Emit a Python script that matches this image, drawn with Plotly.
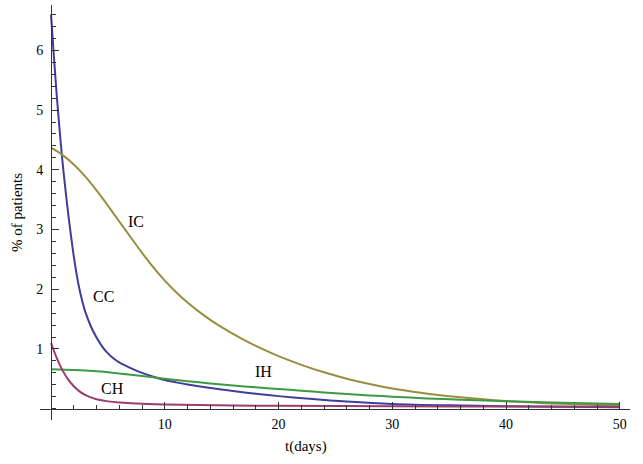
import plotly.graph_objects as go

# ---- data ----
t_cc = [0, 0.25, 0.5, 0.75, 1.0, 1.25, 1.5, 1.75, 2.0, 2.25, 2.5, 2.75, 3.0, 3.5, 4.0, 4.5, 5.0, 5.5, 6, 7, 8, 9, 10, 11, 12, 14, 16, 18, 20, 23, 26, 30, 35, 40, 45, 50]
cc = [6.6, 5.9, 5.25, 4.68, 4.15, 3.7, 3.28, 2.9, 2.55, 2.25, 2.0, 1.8, 1.63, 1.38, 1.19, 1.04, 0.925, 0.84, 0.775, 0.68, 0.60, 0.535, 0.48, 0.44, 0.405, 0.345, 0.295, 0.25, 0.21, 0.16, 0.12, 0.08, 0.055, 0.04, 0.03, 0.025]

t_ic = [0, 1, 2, 3, 4, 5, 6, 7, 8, 9, 10, 11, 12, 13, 14, 15, 16, 17, 18, 19, 20, 22, 24, 26, 28, 30, 32, 34, 36, 38, 40, 42, 44, 46, 48, 50]
ic = [4.37, 4.25, 4.09, 3.89, 3.655, 3.40, 3.135, 2.87, 2.61, 2.365, 2.145, 1.95, 1.778, 1.625, 1.488, 1.364, 1.251, 1.147, 1.051, 0.962, 0.879, 0.734, 0.609, 0.502, 0.412, 0.336, 0.278, 0.23, 0.19, 0.156, 0.128, 0.106, 0.088, 0.074, 0.063, 0.055]

t_ih = [0, 2, 4, 6, 8, 10, 12, 14, 16, 18, 20, 22, 24, 26, 28, 30, 33, 36, 40, 45, 50]
ih = [0.66, 0.648, 0.625, 0.59, 0.548, 0.502, 0.46, 0.422, 0.388, 0.357, 0.33, 0.30, 0.272, 0.246, 0.222, 0.20, 0.172, 0.15, 0.125, 0.098, 0.077]

t_ch = [0, 0.5, 1, 1.5, 2, 2.5, 3, 3.5, 4, 5, 6, 7, 8, 10, 13, 16, 20, 30, 40, 50]
ch = [1.1, 0.85, 0.645, 0.49, 0.375, 0.29, 0.23, 0.188, 0.158, 0.122, 0.102, 0.09, 0.082, 0.07, 0.06, 0.053, 0.048, 0.04, 0.035, 0.03]

series_names = ["CC", "IC", "IH", "CH"]
series_colors = ["#3f3d99", "#9a8d3f", "#3d9948", "#993d71"]

# label positions (data coordinates)
label_text = ["IC", "CC", "IH", "CH"]
label_x = [7.5, 4.6, 18.7, 5.4]
label_y = [3.14, 1.87, 0.63, 0.34]

x_ticks = [10, 20, 30, 40, 50]
y_ticks = [1, 2, 3, 4, 5, 6]

x_range = [-0.97, 50.9]
y_range = [-0.19, 6.76]

fig = go.Figure()
for (tx, vy), name, col in zip([(t_cc, cc), (t_ic, ic), (t_ih, ih), (t_ch, ch)], series_names, series_colors):
    fig.add_trace(go.Scatter(x=tx, y=vy, mode="lines", name=name,
                             line=dict(color=col, width=2, shape="spline", smoothing=0.8),
                             showlegend=False, hoverinfo="skip"))

for txt, lx, ly in zip(label_text, label_x, label_y):
    fig.add_annotation(x=lx, y=ly, xref="x", yref="y", text=txt, showarrow=False,
                       font=dict(family="Liberation Serif", size=16, color="black"))

x_pos = (0 - y_range[0]) / (y_range[1] - y_range[0])
y_pos = (0 - x_range[0]) / (x_range[1] - x_range[0])

axis_font = dict(family="Liberation Serif", size=14, color="black")
title_font = dict(family="Liberation Serif", size=15, color="black")

fig.update_layout(
    width=643, height=464,
    margin=dict(l=40, r=13, t=5, b=44),
    paper_bgcolor="white", plot_bgcolor="white",
    xaxis=dict(range=x_range, anchor="free", position=x_pos, showgrid=False, zeroline=False,
               showline=True, linecolor="#333333", linewidth=1,
               tickvals=x_ticks, ticks="inside", ticklen=7, tickcolor="#333333", tickwidth=1,
               tickfont=axis_font, ticklabelstandoff=3,
               minor=dict(dtick=2, tick0=0, ticks="inside", ticklen=4, tickcolor="#333333", showgrid=False)),
    yaxis=dict(range=y_range, anchor="free", position=y_pos, showgrid=False, zeroline=False,
               showline=True, linecolor="#333333", linewidth=1,
               tickvals=y_ticks, ticks="inside", ticklen=7, tickcolor="#333333", tickwidth=1,
               tickfont=axis_font, ticklabelstandoff=5,
               minor=dict(dtick=0.2, tick0=0, ticks="inside", ticklen=4, tickcolor="#333333", showgrid=False)),
)

fig.add_annotation(xref="paper", yref="paper", x=0.451, y=-0.065, text="t(days)", showarrow=False,
                   font=title_font, xanchor="center", yanchor="middle")
fig.add_annotation(xref="paper", yref="paper", x=-0.039, y=0.501, text="% of patients", showarrow=False,
                   font=title_font, textangle=-90, xanchor="center", yanchor="middle")

fig.write_html("out.html", config={"displayModeBar": False},
               post_script="document.body.style.margin='0px';")
